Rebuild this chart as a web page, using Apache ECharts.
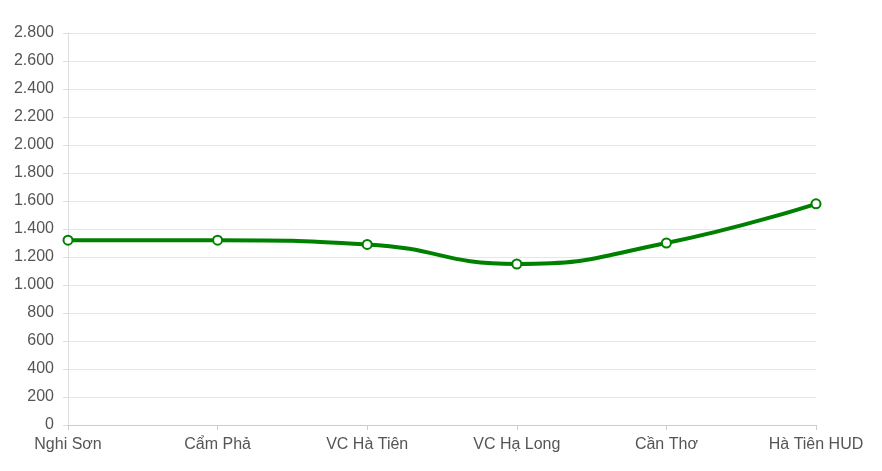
<!DOCTYPE html>
<html><head><meta charset="utf-8">
<script src="https://cdn.jsdelivr.net/npm/echarts@6/dist/echarts.min.js"></script>
<style>html,body{margin:0;padding:0;background:#fff}#c{width:882px;height:471px}</style>
</head><body><div id="c"></div>
<script>
const categories = ["Nghi Sơn","Cẩm Phả","VC Hà Tiên","VC Hạ Long","Cần Thơ","Hà Tiên HUD"];
const values = [1320,1320,1290,1150,1300,1580];
const chart = echarts.init(document.getElementById('c'));
chart.setOption({
  animation:false,
  grid:{left:68,right:66,top:33,bottom:46},
  xAxis:{type:'category',data:categories,boundaryGap:false,
    axisLine:{lineStyle:{color:'#ccc'}},axisTick:{show:true,alignWithLabel:true,lineStyle:{color:'#ccc'}},
    axisLabel:{color:'#555',fontSize:16,fontFamily:'Arial, Liberation Sans',margin:12}},
  yAxis:{type:'value',min:0,max:2800,interval:200,
    axisLine:{show:true,lineStyle:{color:'#ddd'}},axisTick:{show:true,lineStyle:{color:'#ddd'}},
    splitLine:{lineStyle:{color:'#e6e6e6'}},
    axisLabel:{color:'#555',fontSize:16,fontFamily:'Arial, Liberation Sans',margin:14,
      formatter:v=>v.toLocaleString('de-DE')}},
  series:[{type:'line',data:values,smooth:true,symbol:'emptyCircle',symbolSize:9,
    lineStyle:{color:'#008000',width:4},itemStyle:{color:'#008000',borderWidth:2}}]
});
</script></body></html>
